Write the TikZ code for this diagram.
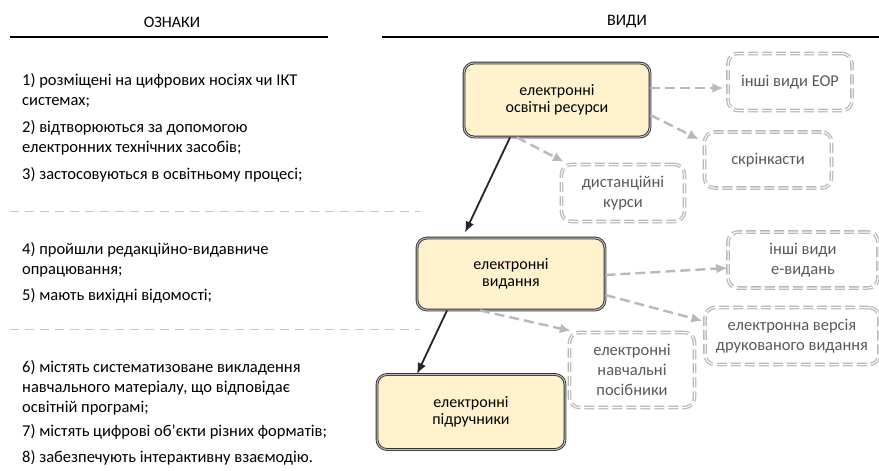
\documentclass[tikz,border=0pt]{standalone}
\usepackage{fontspec}
\setmainfont{Carlito}
\usetikzlibrary{arrows.meta}

\definecolor{kindfill}{RGB}{255,242,204}
\tikzset{
  head/.style={font=\fontsize{16}{18}\selectfont},
  item/.style={anchor=west, align=left, inner sep=0pt, font=\fontsize{16.5}{20}\selectfont},
  kind/.style={draw=black!80, double=gray!50, double distance=1pt, line width=0.9pt,
    fill=kindfill, rounded corners=10pt, align=center, inner sep=0pt,
    font=\fontsize{16}{17.5}\selectfont},
  other/.style={draw=gray!55, double=white, double distance=1pt, line width=1.3pt,
    dash pattern=on 10pt off 4pt, rounded corners=10pt, align=center, inner sep=0pt,
    text=black!65, font=\fontsize{16.5}{20}\selectfont},
  mainarrow/.style={-{Latex[length=11pt,width=9pt]}, line width=1.8pt, black!85},
  sidearrow/.style={-{Latex[length=11pt,width=10pt]}, line width=2.4pt, gray!55,
    dash pattern=on 10pt off 5pt},
}

\begin{document}
\begin{tikzpicture}[x=1pt, y=-1pt]
  \useasboundingbox (0,0) rectangle (879,471);

  % Headers
  \node[head] (signs) at (172,22) {ОЗНАКИ};
  \draw[line width=1.6pt] (10,37) -- (328,37);
  \node[head] (kinds) at (627,22) {ВИДИ};
  \draw[line width=1.6pt] (382,37) -- (879,37);

  % Separators
  \draw[gray!45, line width=1pt, dash pattern=on 9pt off 6pt] (10,211) -- (420,211);
  \draw[gray!45, line width=1pt, dash pattern=on 9pt off 6pt] (10,329) -- (420,329);

  % Signs
  \node[item] (s1) at (22,91) {1) розміщені на цифрових носіях чи ІКТ\\системах;};
  \node[item] (s2) at (22,138) {2) відтворюються за допомогою\\електронних технічних засобів;};
  \node[item] (s3) at (22,175) {3) застосовуються в освітньому процесі;};
  \node[item] (s4) at (22,260) {4) пройшли редакційно-видавниче\\опрацювання;};
  \node[item] (s5) at (22,296) {5) мають вихідні відомості;};
  \node[item] (s6) at (22,388) {6) містять систематизоване викладення\\навчального матеріалу, що відповідає\\освітній програмі;};
  \node[item] (s7) at (22,432) {7) містять цифрові об’єкти різних форматів;};
  \node[item] (s8) at (22,458) {8) забезпечують інтерактивну взаємодію.};

  % Kinds
  \node[kind, minimum width=186pt, minimum height=74pt] (eor) at (557,100) {електронні\\освітні ресурси};
  \node[kind, minimum width=188pt, minimum height=72pt] (ev) at (511,274) {електронні\\видання};
  \node[kind, minimum width=188pt, minimum height=75pt] (ep) at (471,412) {електронні\\підручники};

  \node[other, minimum width=124pt, minimum height=57pt] (oeor) at (790,82) {інші види ЕОР};
  \node[other, minimum width=127pt, minimum height=56pt] (scr) at (768,160) {скрінкасти};
  \node[other, minimum width=123pt, minimum height=57pt] (dist) at (623,193) {дистанційні\\курси};
  \node[other, minimum width=150pt, minimum height=56pt] (oev) at (803,260) {інші види\\е-видань};
  \node[other, minimum width=174pt, minimum height=57pt] (print) at (792,336) {електронна версія\\друкованого видання};
  \node[other, minimum width=125pt, minimum height=75pt] (guide) at (632,370) {електронні\\навчальні\\посібники};

  % Arrows
  \draw[mainarrow] ([xshift=-47pt]eor.south) -- ([xshift=-46pt,yshift=5pt]ev.north);
  \draw[mainarrow] ([xshift=-64pt]ev.south) -- ([xshift=-54pt]ep.north);

  \draw[sidearrow] ([yshift=12pt]eor.east) -- ([xshift=-4pt,yshift=-6pt]oeor.west);
  \draw[sidearrow] ([yshift=-15pt]eor.east) -- ([xshift=-5pt,yshift=-8pt]scr.north west);
  \draw[sidearrow] ([xshift=-40pt]eor.south) -- ([xshift=3pt,yshift=2pt]dist.north west);
  \draw[sidearrow] ([yshift=-1pt]ev.east) -- ([yshift=-8pt]oev.west);
  \draw[sidearrow] ([yshift=-21pt]ev.east) -- ([xshift=-2pt,yshift=-14pt]print.north west);
  \draw[sidearrow] ([xshift=-31pt]ev.south) -- ([xshift=2pt,yshift=1pt]guide.north west);
\end{tikzpicture}
\end{document}
